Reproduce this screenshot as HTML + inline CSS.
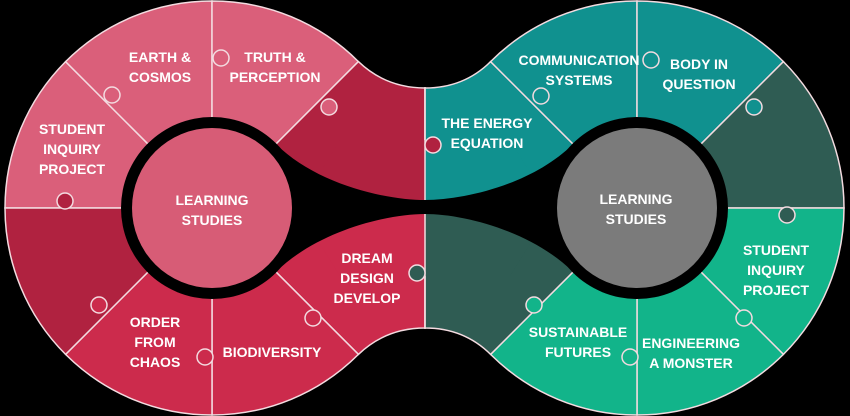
<!DOCTYPE html>
<html><head><meta charset="utf-8"><style>
html,body{margin:0;padding:0;background:#000;}
svg{display:block}
text{font-family:"Liberation Sans",sans-serif;font-weight:bold;font-size:14px;fill:#fff;text-anchor:middle;dominant-baseline:central}
</style></head><body>
<svg width="850" height="416" viewBox="0 0 850 416" xmlns="http://www.w3.org/2000/svg">
<rect width="850" height="416" fill="#000"/>
<g stroke="#f3dbe0" stroke-width="1.5">
<path d="M212,208 L5,208 A207,207 0 0 1 65.6,61.6 Z" fill="#da5f7a"/>
<path d="M212,208 L65.6,61.6 A207,207 0 0 1 212,1 Z" fill="#da5f7a"/>
<path d="M212,208 L212,1 A207,207 0 0 1 358.4,61.6 Z" fill="#da5f7a"/>
<path d="M212,208 L358.4,61.6 Q386,88 425,88 L425,208 Z" fill="#b02240"/>
<path d="M212,208 L358.4,354.4 Q386,328 425,328 L425,208 Z" fill="#cc2b4c"/>
<path d="M212,208 L358.4,354.4 A207,207 0 0 1 212,415 Z" fill="#cc2b4c"/>
<path d="M212,208 L212,415 A207,207 0 0 1 65.6,354.4 Z" fill="#cc2b4c"/>
<path d="M212,208 L65.6,354.4 A207,207 0 0 1 5,208 Z" fill="#b02240"/>
<path d="M637,208 L430,208 A207,207 0 0 1 490.6,61.6 Z" fill="#10918f"/>
<path d="M637,208 L490.6,61.6 Q464,88 425,88 L425,208 Z" fill="#10918f"/>
<path d="M637,208 L490.6,61.6 A207,207 0 0 1 637,1 Z" fill="#10918f"/>
<path d="M637,208 L637,1 A207,207 0 0 1 783.4,61.6 Z" fill="#10918f"/>
<path d="M637,208 L783.4,61.6 A207,207 0 0 1 844,208 Z" fill="#2f5c53"/>
<path d="M637,208 L844,208 A207,207 0 0 1 783.4,354.4 Z" fill="#12b48a"/>
<path d="M637,208 L783.4,354.4 A207,207 0 0 1 637,415 Z" fill="#12b48a"/>
<path d="M637,208 L637,415 A207,207 0 0 1 490.6,354.4 Z" fill="#12b48a"/>
<path d="M637,208 L490.6,354.4 Q464,328 425,328 L425,208 Z" fill="#2f5c53"/>
</g>
<path d="M340,140 L425,140 L425,205 L300,205 Z" fill="#b02240"/>
<path d="M340,276 L425,276 L425,212 L300,212 Z" fill="#cc2b4c"/>
<path d="M510,140 L425,140 L425,205 L550,205 Z" fill="#10918f"/>
<path d="M510,276 L425,276 L425,212 L550,212 Z" fill="#2f5c53"/>
<line x1="425" y1="87" x2="425" y2="329" stroke="#f3dbe0" stroke-width="1.5"/>
<g stroke="#f3dbe0" stroke-width="1.5">
<circle cx="112" cy="95" r="8" fill="#da5f7a"/>
<circle cx="221" cy="58" r="8" fill="#da5f7a"/>
<circle cx="329" cy="107" r="8" fill="#da5f7a"/>
<circle cx="65" cy="201" r="8" fill="#b02240"/>
<circle cx="99" cy="305" r="8" fill="#cc2b4c"/>
<circle cx="205" cy="357" r="8" fill="#cc2b4c"/>
<circle cx="313" cy="318" r="8" fill="#cc2b4c"/>
<circle cx="433" cy="145" r="8" fill="#b02240"/>
<circle cx="417" cy="273" r="8" fill="#2f5c53"/>
<circle cx="541" cy="96" r="8" fill="#10918f"/>
<circle cx="651" cy="60" r="8" fill="#10918f"/>
<circle cx="754" cy="107" r="8" fill="#10918f"/>
<circle cx="787" cy="215" r="8" fill="#2f5c53"/>
<circle cx="744" cy="318" r="8" fill="#12b48a"/>
<circle cx="630" cy="357" r="8" fill="#12b48a"/>
<circle cx="534" cy="305" r="8" fill="#12b48a"/>
</g>
<path d="M212,208 L276,144 C316,184 385,200 425,200 C465,200 533,184 573,144 L637,208 L573,272 C533,232 465,214 425,214 C385,214 316,232 276,272 Z" fill="#000"/>
<circle cx="212" cy="208" r="91" fill="#000"/>
<circle cx="637" cy="208" r="91" fill="#000"/>
<circle cx="212" cy="208" r="80" fill="#d75c76"/>
<circle cx="637" cy="208" r="80" fill="#7b7b7b"/>
<text x="160" y="57">EARTH &amp;</text><text x="160" y="77">COSMOS</text>
<text x="275" y="57">TRUTH &amp;</text><text x="275" y="77">PERCEPTION</text>
<text x="72" y="129">STUDENT</text><text x="72" y="149">INQUIRY</text><text x="72" y="169">PROJECT</text>
<text x="212" y="200">LEARNING</text><text x="212" y="220">STUDIES</text>
<text x="367" y="258">DREAM</text><text x="367" y="278">DESIGN</text><text x="367" y="298">DEVELOP</text>
<text x="155" y="322">ORDER</text><text x="155" y="342">FROM</text><text x="155" y="362">CHAOS</text>
<text x="272" y="352">BIODIVERSITY</text>
<text x="487" y="123">THE ENERGY</text><text x="487" y="143">EQUATION</text>
<text x="579" y="60">COMMUNICATION</text><text x="579" y="80">SYSTEMS</text>
<text x="699" y="64">BODY IN</text><text x="699" y="84">QUESTION</text>
<text x="636" y="199">LEARNING</text><text x="636" y="219">STUDIES</text>
<text x="776" y="250">STUDENT</text><text x="776" y="270">INQUIRY</text><text x="776" y="290">PROJECT</text>
<text x="578" y="332">SUSTAINABLE</text><text x="578" y="352">FUTURES</text>
<text x="691" y="343">ENGINEERING</text><text x="691" y="363">A MONSTER</text>
</svg>
</body></html>
